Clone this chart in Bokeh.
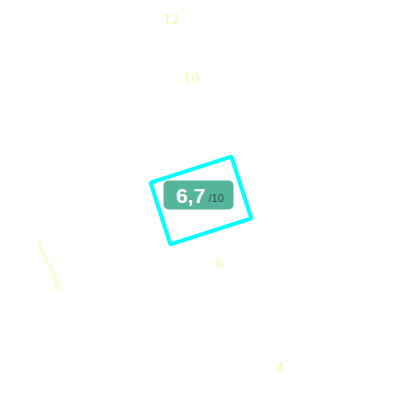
from bokeh.plotting import figure
from bokeh.models import Range1d
from bokeh.embed import file_html
from bokeh.resources import INLINE
from bokeh.core.properties import value
import math

# --- data ---
tick_labels = ["12", "10", "8", "4"]
score = 6.7
max_score = 10
category_label = "Sortenreinheit"

# --- layout (screen positions, px within plot) ---
tick_x = [171, 191, 219, 280]
tick_y = [18, 77, 262, 366]
frame_cx, frame_cy = 200.5, 200
frame_w, frame_h = 85, 65
frame_angle = math.radians(17.8)
badge_cx, badge_cy = 198, 194.5
badge_w, badge_h = 70, 29

p = figure(width=384, height=384, output_backend="svg", toolbar_location=None,
           x_range=Range1d(0, 384), y_range=Range1d(384, 0), min_border=0)
p.axis.visible = False
p.grid.visible = False
p.outline_line_color = None
p.background_fill_color = "white"
p.border_fill_color = "white"

p.text(x=tick_x, y=tick_y, text=tick_labels, text_color="#e8ffb0",
       text_font=value("DejaVu Serif"), text_font_size="13px",
       text_align="center", text_baseline="middle")

p.text(x=[49], y=[265], text=[category_label], angle=-1.13, text_color="#e8ffb0",
       text_font=value("DejaVu Serif"), text_font_size="7.5px",
       text_align="center", text_baseline="middle")

p.rect(x=[frame_cx], y=[frame_cy], width=[frame_w], height=[frame_h],
       width_units="screen", height_units="screen", angle=frame_angle,
       fill_color=None, line_color="#00ffff", line_width=4)

p.rect(x=[badge_cx], y=[badge_cy], width=[badge_w], height=[badge_h],
       width_units="screen", height_units="screen", fill_color="#55b59b",
       line_color=None, border_radius=5)

score_txt = f"{score:.1f}".replace(".", ",")
p.text(x=[190], y=[195], text=[score_txt], text_color="white",
       text_font=value("Liberation Sans"), text_font_style="bold",
       text_font_size="21px", text_align="center", text_baseline="middle")
p.text(x=[208], y=[197], text=[f"/{max_score}"], text_color="#2f4f4f",
       text_font=value("Liberation Sans"), text_font_size="11px",
       text_align="left", text_baseline="middle")

open("out.html", "w").write(file_html(p, INLINE))
